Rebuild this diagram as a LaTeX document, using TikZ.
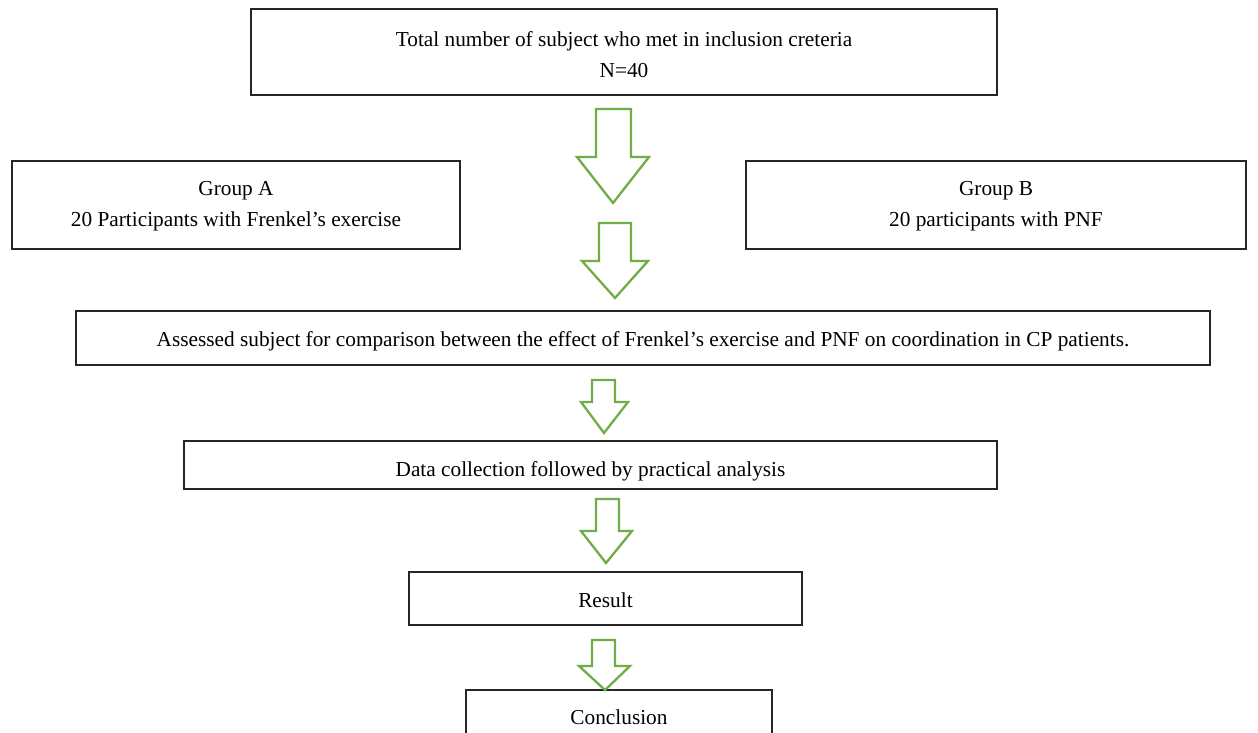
\documentclass[tikz,border=0pt]{standalone}
\usepackage{fontspec}
\setmainfont{Liberation Serif}
\definecolor{agreen}{HTML}{70AD47}
\definecolor{boxline}{HTML}{262626}
\tikzset{
  box/.style={draw=boxline, line width=1.3pt, rectangle, inner sep=0pt},
  txt/.style={align=center, inner sep=0pt, font=\fontsize{21.3}{31}\selectfont, text=black},
  garrow/.style={draw=agreen, line width=2.3pt, fill=white, line join=miter},
}
\begin{document}
\begin{tikzpicture}[x=1pt,y=-1pt]
\useasboundingbox[fill=white] (0,0) rectangle (1258,733);
\node[box, minimum width=746, minimum height=86] (top) at (624,52) {};
\node[box, minimum width=448, minimum height=88] (ga) at (236,205) {};
\node[box, minimum width=500, minimum height=88] (gb) at (996,205) {};
\node[box, minimum width=1134, minimum height=54] (ass) at (643,338) {};
\node[box, minimum width=813, minimum height=48] (data) at (590.5,465) {};
\node[box, minimum width=393, minimum height=53] (res) at (605.5,598.5) {};
\node[box, minimum width=306, minimum height=54] (conc) at (619,717) {};
\node[txt] (topt) at ([yshift=-2.5pt]top.center)
  {Total number of subject who met in inclusion creteria\\N=40};
\node[txt] (gat) at ([yshift=-1.5pt]ga.center)
  {Group A\\20 Participants with Frenkel’s exercise};
\node[txt] (gbt) at ([yshift=-1.5pt]gb.center)
  {Group B\\20 participants with PNF};
\node[txt] (asst) at ([yshift=-3.5pt]ass.center)
  {Assessed subject for comparison between the effect of Frenkel’s exercise and PNF on coordination in CP patients.};
\node[txt] (datat) at ([yshift=-6pt]data.center)
  {Data collection followed by practical analysis};
\node[txt] (rest) at ([yshift=-2pt]res.center) {Result};
\node[txt] (conct) at (conc.center) {Conclusion};
% block arrows
\draw[garrow] (596,109) -- (631,109) -- (631,157) -- (649,157) -- (613,203) -- (577,157) -- (596,157) -- cycle;
\draw[garrow] (599,223) -- (631,223) -- (631,261) -- (648,261) -- (615,298) -- (582,261) -- (599,261) -- cycle;
\draw[garrow] (592,380) -- (615,380) -- (615,402) -- (628,402) -- (604,433) -- (581,402) -- (592,402) -- cycle;
\draw[garrow] (596,499) -- (619,499) -- (619,531) -- (632,531) -- (606,563) -- (581,531) -- (596,531) -- cycle;
\draw[garrow] (592,640) -- (615,640) -- (615,666) -- (630,666) -- (605,690) -- (579,666) -- (592,666) -- cycle;
\end{tikzpicture}
\end{document}
